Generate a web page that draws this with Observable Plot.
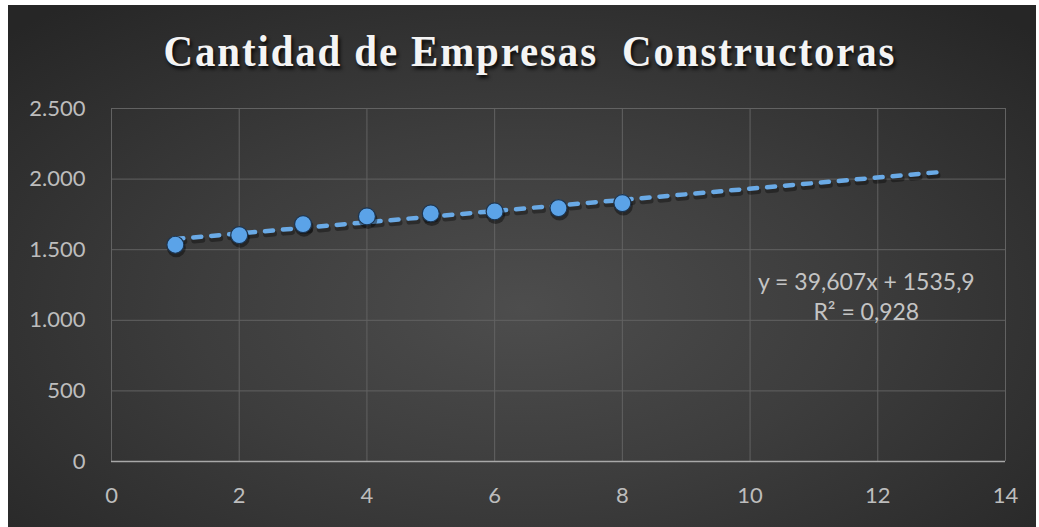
<!DOCTYPE html>
<html>
<head>
<meta charset="utf-8">
<script src="https://cdn.jsdelivr.net/npm/d3@7"></script>
<script src="https://cdn.jsdelivr.net/npm/@observablehq/plot@0.6"></script>
<style>
  html, body { margin: 0; padding: 0; background: #ffffff; }
  #frame {
    position: absolute; left: 8px; top: 5px; width: 1028px; height: 522px;
    background: radial-gradient(ellipse 70% 75% at 50% 58%, #4d4d4d 0%, #3d3d3d 45%, #262626 100%);
    overflow: hidden;
  }
  #title {
    height: 85px; box-sizing: border-box; padding-top: 24px; padding-left: 16px;
    text-align: center; white-space: pre;
    font-family: "Liberation Serif", "DejaVu Serif", serif; font-weight: bold;
    font-size: 44px; letter-spacing: 2px; color: #f4f4f4; line-height: 46px;
    text-shadow: 2px 3px 4px rgba(0,0,0,0.85);
  }
  #title span { display: inline-block; transform: scaleX(0.93); }
  #chart svg { display: block; }
</style>
</head>
<body>
<div id="frame">
  <div id="title"><span>Cantidad de Empresas  Constructoras</span></div>
  <div id="chart"></div>
</div>
<script>
// Años (1..8) y cantidad de empresas constructoras registradas
const periods = [1, 2, 3, 4, 5, 6, 7, 8];
const companies = [1535, 1603, 1681, 1736, 1757, 1771, 1795, 1830];

// Línea de tendencia lineal y su ajuste
const trendSlope = 39.607;
const trendIntercept = 1535.9;
const trendRSquared = 0.928;
const trendRange = [1, 13];

// Ejes
const xTicks = [0, 2, 4, 6, 8, 10, 12, 14];
const yTicks = [0, 500, 1000, 1500, 2000, 2500];

const esLocale = d3.formatLocale({decimal: ",", thousands: ".", grouping: [3], currency: ["", " €"]});
const fmtThousands = esLocale.format(",");
const fmtDecimal = (v, digits) => v.toFixed(digits).replace(".", ",");

const points = periods.map((p, i) => ({x: p, y: companies[i]}));
const trend = trendRange.map(x => ({x, y: trendSlope * x + trendIntercept}));
const equation = [{
  x: 11.82, y: 1175,
  text: `y = ${fmtDecimal(trendSlope, 3)}x + ${fmtDecimal(trendIntercept, 1)}\nR² = ${fmtDecimal(trendRSquared, 3)}`
}];

const labelFont = "Lato, 'Open Sans', sans-serif";

const chart = Plot.plot({
  width: 1028,
  height: 437,
  marginLeft: 103,
  marginRight: 31,
  marginTop: 18,
  marginBottom: 66,
  style: {background: "transparent", fontFamily: labelFont, fontSize: "22px", color: "#bdbdbd", overflow: "visible"},
  x: {domain: [0, 14], ticks: xTicks, tickSize: 0, tickPadding: 26, label: null},
  y: {domain: [0, 2500], ticks: yTicks, tickSize: 0, tickPadding: 26, label: null, tickFormat: fmtThousands},
  marks: [
    Plot.gridY(yTicks, {stroke: "#626262", strokeOpacity: 1, strokeWidth: 1}),
    Plot.gridX(xTicks, {stroke: "#626262", strokeOpacity: 1, strokeWidth: 1}),
    Plot.ruleY([0], {stroke: "#a8a8a8", strokeWidth: 1.5}),
    // sombra y trazo de la tendencia
    Plot.line(trend, {x: "x", y: "y", stroke: "#000000", strokeOpacity: 0.35, strokeWidth: 6, strokeDasharray: "8,10", strokeLinecap: "round", dx: 1, dy: 3}),
    Plot.line(trend, {x: "x", y: "y", stroke: "#6aaae6", strokeWidth: 4.5, strokeDasharray: "8,10", strokeLinecap: "round"}),
    // sombra y puntos de datos
    Plot.dot(points, {x: "x", y: "y", r: 9.5, fill: "#000000", fillOpacity: 0.4, dx: 1, dy: 3}),
    Plot.dot(points, {x: "x", y: "y", r: 8.5, fill: "#5ba3e8", stroke: "#1d3550", strokeWidth: 1.2}),
    Plot.text(equation, {x: "x", y: "y", text: "text", fill: "#c4c4c4", fontSize: 23, lineHeight: 1.3, fontFamily: labelFont})
  ]
});

document.getElementById("chart").appendChild(chart);
</script>
</body>
</html>
